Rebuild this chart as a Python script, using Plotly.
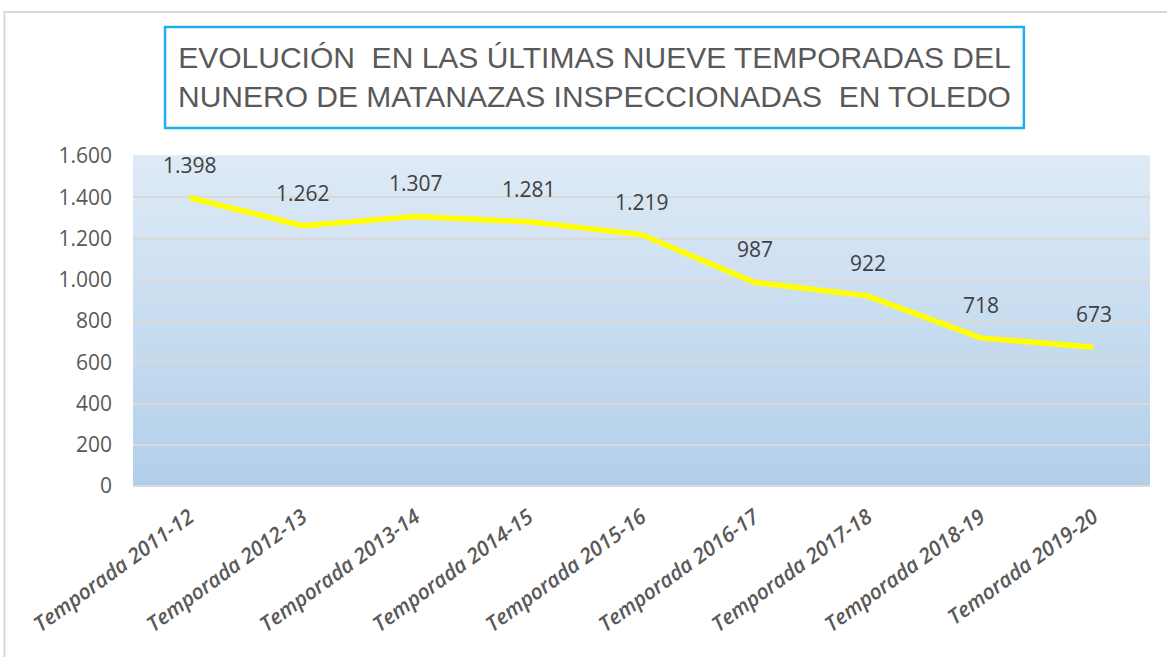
import plotly.graph_objects as go

categories = ["Temporada 2011-12", "Temporada 2012-13", "Temporada 2013-14", "Temporada 2014-15",
              "Temporada 2015-16", "Temporada 2016-17", "Temporada 2017-18", "Temporada 2018-19",
              "Temorada 2019-20"]
values = [1398, 1262, 1307, 1281, 1219, 987, 922, 718, 673]
y_ticks = [0, 200, 400, 600, 800, 1000, 1200, 1400, 1600]
title_lines = ["EVOLUCIÓN  EN LAS ÚLTIMAS NUEVE TEMPORADAS DEL",
               "NUNERO DE MATANAZAS INSPECCIONADAS  EN TOLEDO"]

def fmt(v):
    return f"{v:,}".replace(",", ".")

fig = go.Figure()
fig.add_trace(go.Scatter(
    x=categories, y=values, mode="lines",
    line=dict(color="#ffff00", width=5.5, shape="linear"),
    hoverinfo="x+y", showlegend=False,
))

# gradient background strips
shapes = []
n = 60
top = (0xde, 0xea, 0xf6)
bot = (0xb2, 0xcf, 0xea)
for i in range(n):
    t = i / (n - 1)
    c = tuple(round(bot[k] + (top[k] - bot[k]) * t) for k in range(3))
    shapes.append(dict(type="rect", xref="paper", yref="paper", x0=0, x1=1,
                       y0=i / n, y1=(i + 1) / n + 0.002, line=dict(width=0),
                       fillcolor="rgb(%d,%d,%d)" % c, layer="below"))
# outer border
shapes.append(dict(type="path", xref="paper", yref="paper",
                   path="M -0.1264 -0.6 L -0.1264 1.436 L 1.05 1.436",
                   line=dict(color="#d9d9d9", width=2), layer="above"))
# title box
shapes.append(dict(type="rect", xref="paper", yref="paper", x0=0.0315, x1=0.876,
                   y0=1.085, y1=1.391, line=dict(color="#1eaee8", width=2.5),
                   fillcolor="rgba(0,0,0,0)", layer="above"))

annotations = [dict(xref="paper", yref="paper", x=0.4537, y=1.238, yanchor="middle",
                    xanchor="center",
                    text="<br>".join(title_lines), showarrow=False,
                    font=dict(family="Liberation Sans Narrow, Arial Narrow, sans-serif", size=30, color="#595959"),
                    align="center")]
for c, v in zip(categories, values):
    annotations.append(dict(x=c, y=v, text=fmt(v), showarrow=False, yshift=33,
                            font=dict(family="Open Sans, sans-serif", size=21, color="#404040")))

fig.update_layout(
    width=1167, height=657,
    margin=dict(l=133, r=17, t=156, b=171),
    paper_bgcolor="white", plot_bgcolor="rgba(0,0,0,0)",
    separators=",.",
    shapes=shapes, annotations=annotations,
    xaxis=dict(range=[-0.5, 8.5], showgrid=False, zeroline=False,
               tickangle=-36, ticks="", showline=False, ticklabelstandoff=14,
               tickfont=dict(family="Open Sans, sans-serif", size=21, color="#595959",
                             weight=600, style="italic")),
    yaxis=dict(range=[0, 1600], tickvals=y_ticks, ticktext=[fmt(v) for v in y_ticks],
               showgrid=True, gridcolor="#d9d9d9", gridwidth=2, zeroline=True,
               zerolinecolor="#d9d9d9", zerolinewidth=2, ticks="", ticklabelstandoff=20,
               tickfont=dict(family="Open Sans, sans-serif", size=21, color="#595959")),
)
fig.write_html("out.html", config={"displayModeBar": False},
               post_script="document.body.style.margin='0';")
